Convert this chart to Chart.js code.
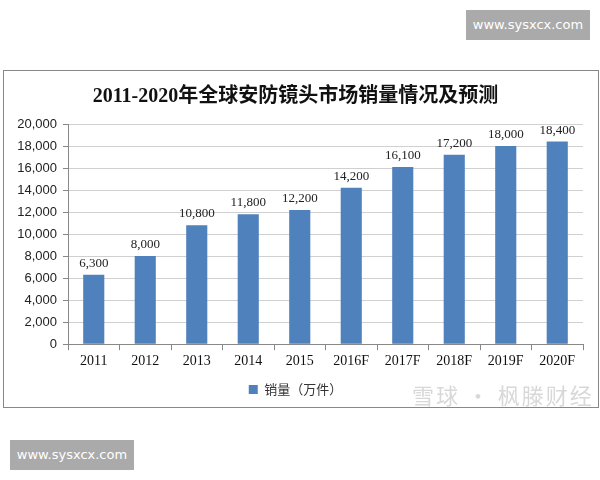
<!DOCTYPE html>
<html>
<head>
<meta charset="utf-8">
<script src="https://cdn.jsdelivr.net/npm/chart.js@4/dist/chart.umd.min.js"></script>
<style>
    body { margin: 0; background: #fff; width: 600px; height: 480px; position: relative; overflow: hidden; }
    #box { position: absolute; left: 3px; top: 70px; width: 594px; height: 336px; border: 1px solid #888; }
    .mark { position: absolute; background: #aaa; color: #fff; font: 13px "DejaVu Sans", sans-serif;
        width: 124px; height: 30px; line-height: 30px; text-align: center; }
    #stamp { position: absolute; left: 412px; top: 378px; color: #d8d8d8; font: 22px "Noto Sans CJK SC", sans-serif; letter-spacing: 2px; }
</style>
</head>
<body>
<div class="mark" style="left:466px; top:10px;">www.sysxcx.com</div>
<div id="box"><canvas id="chart" width="594" height="336"></canvas></div>
<div id="stamp">雪球 · 枫滕财经</div>
<div class="mark" style="left:10px; top:440px;">www.sysxcx.com</div>
<script>
const years = ['2011', '2012', '2013', '2014', '2015', '2016F', '2017F', '2018F', '2019F', '2020F'];
const sales = [6300, 8000, 10800, 11800, 12200, 14200, 16100, 17200, 18000, 18400];
const seriesName = '销量（万件）';
const chartTitle = '2011-2020年全球安防镜头市场销量情况及预测';

// labels above bars
const barLabels = {
    id: 'barLabels',
    afterDatasetsDraw(chart) {
        const ctx = chart.ctx;
        ctx.save();
        ctx.font = '13px "Liberation Serif", serif';
        ctx.fillStyle = '#222';
        ctx.textAlign = 'center';
        ctx.textBaseline = 'bottom';
        chart.getDatasetMeta(0).data.forEach(function (bar, i) {
            ctx.fillText(sales[i].toLocaleString('en-US'), bar.x, bar.y - 5);
        });
        ctx.restore();
    }
};

new Chart(document.getElementById('chart'), {
    type: 'bar',
    data: {
        labels: years,
        datasets: [{
            label: seriesName,
            data: sales,
            backgroundColor: '#4f81bd',
            barPercentage: 0.41,
            categoryPercentage: 1
        }]
    },
    options: {
        responsive: false,
        animation: false,
        layout: { padding: { left: 4, right: 15, top: 4, bottom: 1 } },
        plugins: {
            title: {
                display: true,
                text: chartTitle,
                color: '#111',
                font: { family: '"Liberation Serif", "Noto Sans CJK SC", serif', size: 20, weight: 'bold' },
                padding: { top: 10, bottom: 15 }
            },
            legend: {
                position: 'bottom',
                labels: {
                    boxWidth: 9,
                    boxHeight: 9,
                    color: '#333',
                    font: { family: '"Noto Sans CJK SC", sans-serif', size: 13 }
                }
            },
            tooltip: { enabled: false }
        },
        scales: {
            x: {
                grid: { drawOnChartArea: false, tickLength: 6, color: '#888' },
                border: { color: '#888' },
                ticks: { color: '#111', font: { family: '"Liberation Serif", serif', size: 14 } }
            },
            y: {
                min: 0,
                max: 20000,
                afterFit: function (scale) { scale.width = 60; },
                grid: { color: '#d0d0d0', tickColor: '#888', tickLength: 5 },
                border: { color: '#888' },
                ticks: {
                    stepSize: 2000,
                    color: '#222',
                    padding: 6,
                    font: { family: '"Liberation Sans", sans-serif', size: 13 },
                    callback: function (v) { return v.toLocaleString('en-US'); }
                }
            }
        }
    },
    plugins: [barLabels]
});
</script>
</body>
</html>
